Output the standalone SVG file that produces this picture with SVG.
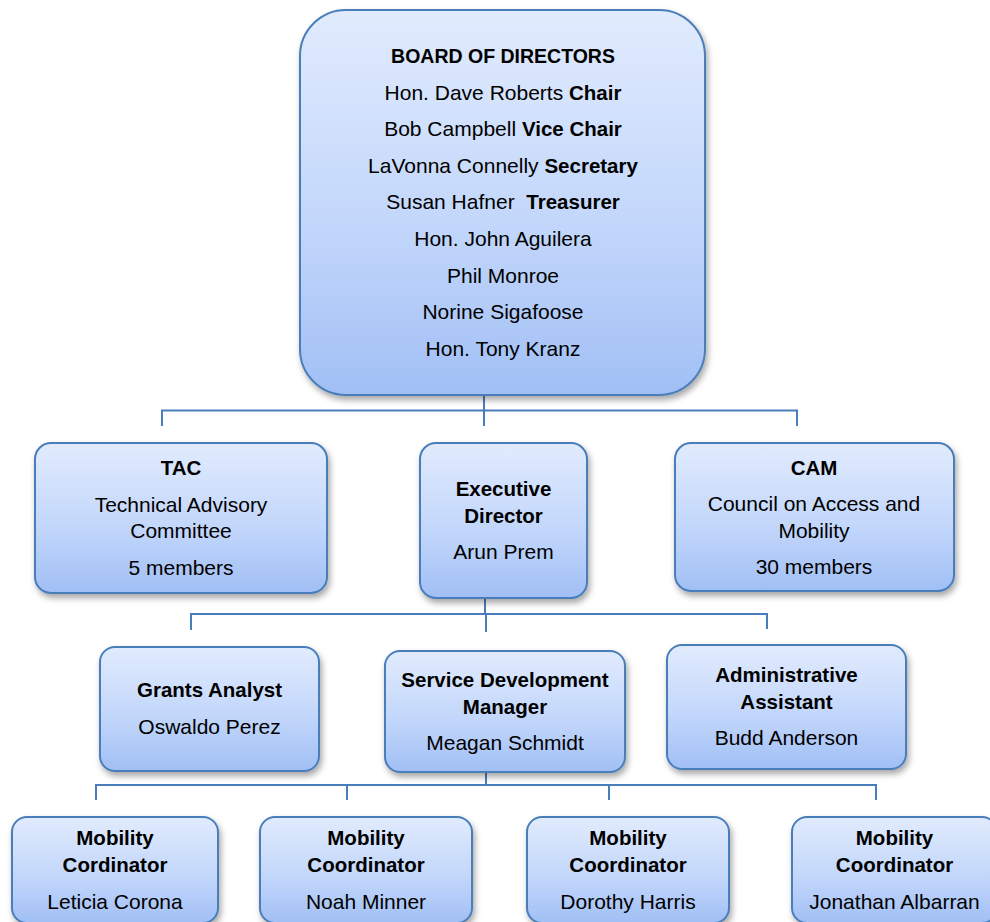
<svg xmlns="http://www.w3.org/2000/svg" width="990" height="922" viewBox="0 0 990 922">
<defs>
<linearGradient id="g" x1="0" y1="0" x2="0" y2="1">
<stop offset="0" stop-color="#e1ebfd"/>
<stop offset="0.55" stop-color="#c3d7fb"/>
<stop offset="1" stop-color="#a1bff5"/>
</linearGradient>
<filter id="sh" x="-10%" y="-10%" width="125%" height="130%">
<feDropShadow dx="2" dy="4" stdDeviation="3" flood-color="#000" flood-opacity="0.35"/>
</filter>
<style>
.box{fill:url(#g);stroke:#4a7ebb;stroke-width:2;filter:url(#sh)}
.c{fill:none;stroke:#4a7ebb;stroke-width:2}
text{font-family:"Liberation Sans",Arial,sans-serif;font-size:21px;fill:#000;text-anchor:middle}
.b{font-weight:bold;font-size:20.5px}
</style>
</defs>
<rect width="990" height="922" fill="#fff"/>
<g id="connectors">
<path class="c" d="M484,395 V426 M162,426 V410.5 H797 V426"/>
<path class="c" d="M485,598 V614 M486,614 V632 M191,630 V614 H767 V629"/>
<path class="c" d="M486,772 V785 M96,800 V785 H876 V800 M347,785 V800 M609,785 V800"/>
</g>
<g id="board">
<rect class="box" x="300" y="10" width="405" height="385" rx="46"/>
<text x="503" y="63" class="b" style="font-size:19.5px">BOARD OF DIRECTORS</text>
<text x="503" y="100">Hon. Dave Roberts <tspan class="b">Chair</tspan></text>
<text x="503" y="136">Bob Campbell <tspan class="b">Vice Chair</tspan></text>
<text x="503" y="173">LaVonna Connelly <tspan class="b">Secretary</tspan></text>
<text x="503" y="209">Susan Hafner&#160; <tspan class="b">Treasurer</tspan></text>
<text x="503" y="246">Hon. John Aguilera</text>
<text x="503" y="283">Phil Monroe</text>
<text x="503" y="319">Norine Sigafoose</text>
<text x="503" y="356">Hon. Tony Kranz</text>
</g>
<g id="tac">
<rect class="box" x="35" y="443" width="292" height="150" rx="16"/>
<text x="181" y="475" class="b">TAC</text>
<text x="181" y="512">Technical Advisory</text>
<text x="181" y="538">Committee</text>
<text x="181" y="575">5 members</text>
</g>
<g id="exec">
<rect class="box" x="420" y="443" width="167" height="155" rx="16"/>
<text x="503.5" y="496" class="b">Executive</text>
<text x="503.5" y="523" class="b">Director</text>
<text x="503.5" y="559">Arun Prem</text>
</g>
<g id="cam">
<rect class="box" x="675" y="443" width="279" height="148" rx="16"/>
<text x="814" y="475" class="b">CAM</text>
<text x="814" y="511">Council on Access and</text>
<text x="814" y="538">Mobility</text>
<text x="814" y="574">30 members</text>
</g>
<g id="grants">
<rect class="box" x="100" y="647" width="219" height="124" rx="15"/>
<text x="209.5" y="697" class="b">Grants Analyst</text>
<text x="209.5" y="734">Oswaldo Perez</text>
</g>
<g id="sdm">
<rect class="box" x="385" y="651" width="240" height="121" rx="15"/>
<text x="505" y="687" class="b">Service Development</text>
<text x="505" y="714" class="b">Manager</text>
<text x="505" y="750">Meagan Schmidt</text>
</g>
<g id="admin">
<rect class="box" x="667" y="645" width="239" height="124" rx="15"/>
<text x="786.5" y="682" class="b">Administrative</text>
<text x="786.5" y="709" class="b">Assistant</text>
<text x="786.5" y="745">Budd Anderson</text>
</g>
<g id="mc1">
<rect class="box" x="12" y="817" width="206" height="106" rx="15"/>
<text x="115" y="845" class="b">Mobility</text>
<text x="115" y="872" class="b">Cordinator</text>
<text x="115" y="909">Leticia Corona</text>
</g>
<g id="mc2">
<rect class="box" x="260" y="817" width="212" height="106" rx="15"/>
<text x="366" y="845" class="b">Mobility</text>
<text x="366" y="872" class="b">Coordinator</text>
<text x="366" y="909">Noah Minner</text>
</g>
<g id="mc3">
<rect class="box" x="527" y="817" width="202" height="106" rx="15"/>
<text x="628" y="845" class="b">Mobility</text>
<text x="628" y="872" class="b">Coordinator</text>
<text x="628" y="909">Dorothy Harris</text>
</g>
<g id="mc4">
<rect class="box" x="792" y="817" width="205" height="106" rx="15"/>
<text x="894.5" y="845" class="b">Mobility</text>
<text x="894.5" y="872" class="b">Coordinator</text>
<text x="894.5" y="909">Jonathan Albarran</text>
</g>
</svg>
